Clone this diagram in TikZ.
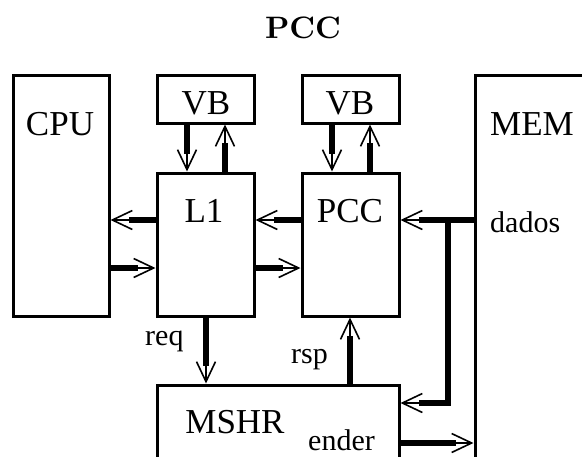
\documentclass[tikz,border=0pt]{standalone}
\usepackage{fontspec}
\setmainfont{Liberation Serif}
\newfontfamily\titlefont{lmroman10-bold.otf}
\usetikzlibrary{arrows.meta}
\newcommand\myarrow[2]{%
  \draw[bus] #1 -- #2;
  \draw[head] #1 -- #2;}
\begin{document}
\begin{tikzpicture}[x=1pt,y=-1pt,
  box/.style={draw, line width=3pt, inner sep=0pt},
  txt/.style={inner sep=0pt, anchor=base, font=\fontsize{35}{40}\selectfont},
  lbl/.style={inner sep=0pt, anchor=base west, font=\fontsize{30}{34}\selectfont},
  bus/.style={line width=6.5pt, shorten >=18pt},
  head/.style={line width=1.6pt, -{Straight Barb[length=20pt,width=19pt]}},
]
\useasboundingbox (0,0) rectangle (582,456);
\clip (0,0) rectangle (582,456);

% boxes
\node[box, minimum width=96pt, minimum height=241pt] (cpu) at (61,195.5) {};
\node[box, minimum width=97pt, minimum height=48pt] (vb1) at (205.5,99) {};
\node[box, minimum width=97pt, minimum height=48pt] (vb2) at (350.5,99) {};
\node[box, minimum width=225pt, minimum height=525pt] (mem) at (587.5,337.5) {};
\node[box, minimum width=97pt, minimum height=143pt] (l1) at (205.5,244.5) {};
\node[box, minimum width=97pt, minimum height=143pt] (pcc) at (350.5,244.5) {};
\node[box, minimum width=242pt, minimum height=175pt] (mshr) at (278,472.5) {};

% texts
\node[inner sep=0pt, anchor=base] (title) at (303,38) {\titlefont\fontsize{31}{34}\selectfont PCC};
\node[txt] (tcpu) at (60,135) {CPU};
\node[txt] (tvb1) at (206,114) {VB};
\node[txt] (tvb2) at (350,114) {VB};
\node[txt] (tmem) at (532,135) {MEM};
\node[txt] (tl1) at (204,222) {L1};
\node[txt] (tpcc) at (350,222) {PCC};
\node[txt] (tmshr) at (235,433) {MSHR};
\node[lbl] (tdados) at (490,232) {dados};
\node[lbl] (treq) at (145,345) {req};
\node[lbl] (trsp) at (291,363) {rsp};
\node[lbl] (tender) at (308,450) {ender};

% helper coordinates
\coordinate (hA) at (0,220);
\coordinate (hB) at (0,268);
\coordinate (hC) at (0,403);
\coordinate (hD) at (0,443);
\coordinate (vA) at (187,0);
\coordinate (vB) at (225,0);
\coordinate (vC) at (332,0);
\coordinate (vD) at (370,0);
\coordinate (vR) at (206,0);
\coordinate (vS) at (350,0);
\coordinate (vJ) at (448,0);

% connectors
\myarrow{(vb1.south -| vA)}{(l1.north -| vA)}
\myarrow{(l1.north -| vB)}{(vb1.south -| vB)}
\myarrow{(vb2.south -| vC)}{(pcc.north -| vC)}
\myarrow{(pcc.north -| vD)}{(vb2.south -| vD)}
\myarrow{(l1.west |- hA)}{(cpu.east |- hA)}
\myarrow{(cpu.east |- hB)}{(l1.west |- hB)}
\myarrow{(pcc.west |- hA)}{(l1.east |- hA)}
\myarrow{(l1.east |- hB)}{(pcc.west |- hB)}
\myarrow{(mem.west |- hA)}{(pcc.east |- hA)}
\draw[bus] (vJ |- hA) -- (vJ |- hC) -- (mshr.east |- hC);
\draw[head] (vJ |- hC) -- (mshr.east |- hC);
\myarrow{(l1.south -| vR)}{(mshr.north -| vR)}
\myarrow{(mshr.north -| vS)}{(pcc.south -| vS)}
\myarrow{(mshr.east |- hD)}{(mem.west |- hD)}
\end{tikzpicture}
\end{document}
